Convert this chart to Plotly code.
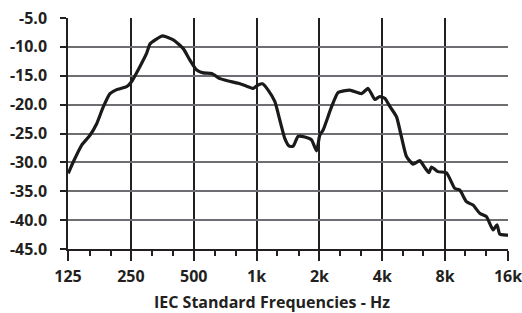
import plotly.graph_objects as go

freq_hz = [125.4, 132.6, 145.4, 159.3, 171.5, 184.4, 198.6, 213.8, 238.8, 252.3,
           276.5, 297.6, 308.7, 330, 355, 399, 445.5, 479.7, 516.4, 555.3,
           609.3, 667.8, 731.4, 816.5, 895.8, 963.3, 1017.8, 1068, 1136, 1223.6,
           1292.6, 1366.3, 1432, 1497, 1581, 1703, 1833, 1937.5, 2008, 2083,
           2285, 2458, 2796, 3180, 3421, 3683, 3891, 4113, 4346, 4679,
           4943, 5224, 5619, 6046, 6390, 6698, 6877, 7395, 8117, 8895,
           9397, 10117, 10880, 11713, 12613, 13565, 14176, 14603, 15726, 16000]
level_db = [-31.9, -29.9, -27.0, -25.3, -23.3, -20.4, -18.1, -17.4, -16.9, -16.0,
            -13.4, -11.1, -9.5, -8.7, -8.1, -8.8, -10.3, -12.3, -14.0, -14.5,
            -14.6, -15.5, -15.9, -16.3, -16.8, -17.2, -16.6, -16.4, -17.5, -19.5,
            -22.7, -25.9, -27.2, -27.2, -25.5, -25.6, -26.1, -28.0, -25.3, -24.4,
            -20.4, -17.9, -17.5, -18.1, -17.2, -19.1, -18.6, -18.9, -20.3, -22.1,
            -25.6, -29.0, -30.3, -29.7, -30.9, -31.8, -30.8, -31.6, -31.8, -34.5,
            -34.8, -36.8, -37.4, -38.8, -39.4, -41.7, -40.8, -42.4, -42.6, -42.6]

x_tick_vals = [125, 250, 500, 1000, 2000, 4000, 8000, 16000]
x_tick_text = ["125", "250", "500", "1k", "2k", "4k", "8k", "16k"]
x_minor_vals = [160, 200, 315, 400, 630, 800, 1250, 1600, 2500, 3150,
                5000, 6300, 10000, 12500]
y_tick_vals = [-45, -40, -35, -30, -25, -20, -15, -10, -5]
y_tick_text = ["-45.0", "-40.0", "-35.0", "-30.0", "-25.0", "-20.0", "-15.0", "-10.0", "-5.0"]
x_title = "IEC Standard Frequencies - Hz"

fig = go.Figure()
fig.add_trace(go.Scatter(
    x=freq_hz, y=level_db, mode="lines",
    line=dict(color="#1a1a1a", width=3.2, shape="spline", smoothing=0.5),
    hoverinfo="skip", showlegend=False,
))

font_family = "Open Sans"
fig.update_layout(
    width=522, height=313,
    margin=dict(l=68, r=14, t=18, b=64),
    paper_bgcolor="white", plot_bgcolor="white",
    font=dict(family=font_family, color="#231f20"),
    xaxis=dict(
        type="log", automargin=False, ticklabeloverflow="allow",
        range=[2.09691, 4.20412],
        tickmode="array", tickvals=x_tick_vals, ticktext=x_tick_text,
        tickfont=dict(size=16, family=font_family, weight="bold"),
        ticks="outside", ticklen=10, tickwidth=1.5, tickcolor="#231f20",
        ticklabelstandoff=2,
        showgrid=True, gridcolor="#231f20", gridwidth=1.5,
        showline=True, linecolor="#231f20", linewidth=1.5,
        zeroline=False,
        minor=dict(tickmode="array", tickvals=x_minor_vals, ticks="outside",
                   ticklen=5, tickwidth=1.5, tickcolor="#231f20", showgrid=False),
    ),
    yaxis=dict(
        range=[-45, -5], automargin=False, ticklabeloverflow="allow",
        tickmode="array", tickvals=y_tick_vals, ticktext=y_tick_text,
        tickfont=dict(size=16, family=font_family, weight="bold"),
        ticks="outside", ticklen=6, tickwidth=1.5, tickcolor="#231f20",
        ticklabelstandoff=10,
        showgrid=True, gridcolor="#6d6e71", gridwidth=1.5,
        showline=True, linecolor="#231f20", linewidth=1.5,
        zeroline=False,
    ),
    annotations=[dict(
        text=x_title, xref="paper", yref="paper", x=0.4636, y=-0.229,
        xanchor="center", yanchor="middle", showarrow=False,
        font=dict(size=16, family=font_family, weight="bold", color="#231f20"),
    )],
)

fig.write_html(
    "out.html",
    config={"displayModeBar": False},
    post_script="document.body.style.margin='0';document.body.style.overflow='hidden';",
)
